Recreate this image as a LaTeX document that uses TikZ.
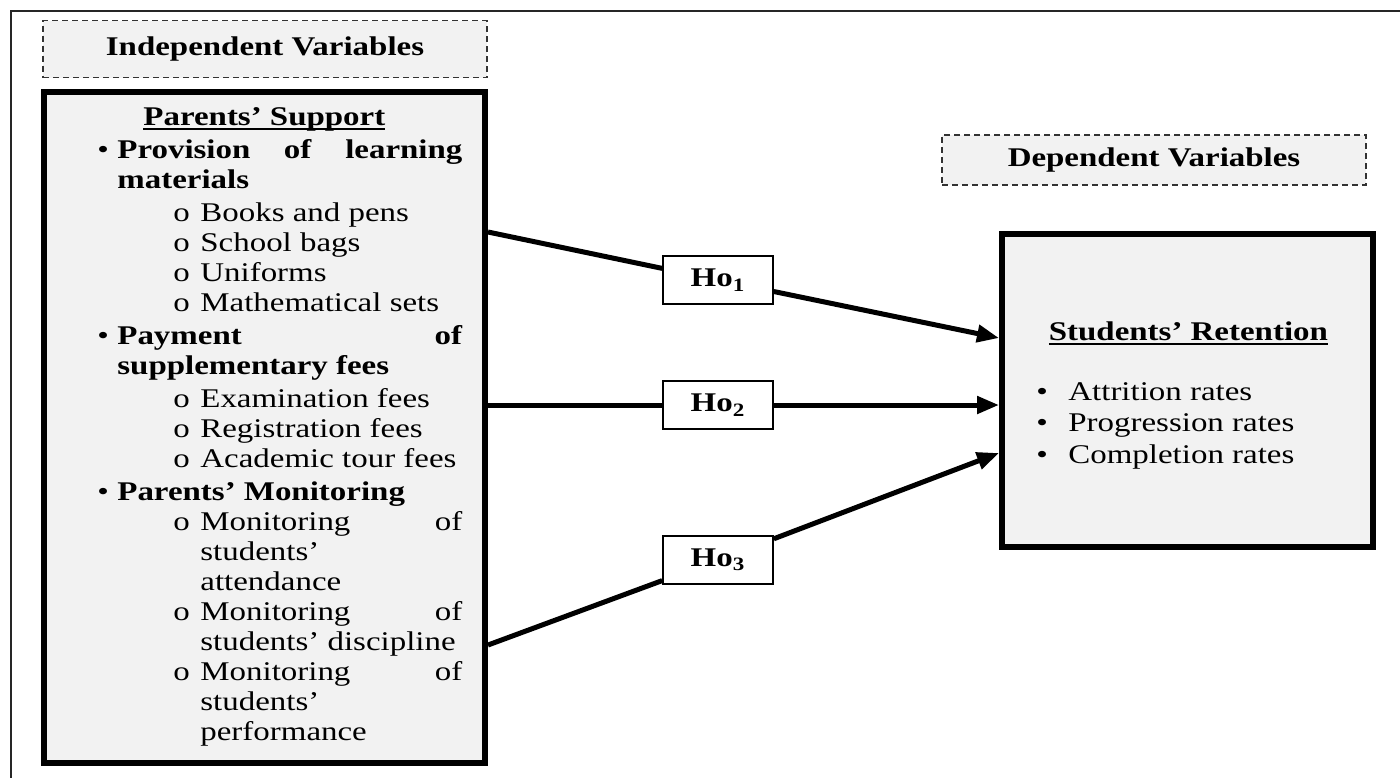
\documentclass[tikz,border=0pt]{standalone}
\usepackage{fontspec}
\setmainfont{Liberation Serif}[FakeStretch=1.22]
\usetikzlibrary{positioning,arrows.meta}
\definecolor{boxgray}{RGB}{242,242,242}
\newcommand{\diagfont}{\fontsize{13.5}{15}\selectfont}
\tikzset{
  varlabel/.style={draw=black!80, dash pattern=on 3pt off 2pt, line width=0.6pt, fill=boxgray, font=\diagfont\bfseries},
  mainbox/.style={draw, line width=3pt, fill=boxgray},
  hobox/.style={draw, line width=0.8pt, fill=white, minimum width=55pt, minimum height=24pt, inner sep=0pt, font=\diagfont\bfseries},
  link/.style={line width=2.5pt},
  arrowlink/.style={link, -{Triangle[length=11pt,width=8.5pt]}}
}
\newcommand{\ulbar}[1]{\setbox0\hbox{#1}\rlap{\rule[-2.6pt]{\wd0}{1pt}}\box0}
\newcommand{\bitem}[1]{\makebox[10pt][l]{\textbullet}\textbf{#1}}
\newcommand{\bcont}[1]{\hspace*{10pt}\textbf{#1}}
\newcommand{\oitem}[1]{\hspace*{38pt}\makebox[13.5pt][l]{o}#1}
\newcommand{\ocont}[1]{\hspace*{51.5pt}#1}
\newcommand{\ritem}[1]{\makebox[16pt][l]{\textbullet}#1}
\begin{document}
\begin{tikzpicture}[x=0.5pt, y=-0.5pt, font=\diagfont]
\useasboundingbox (0,0) rectangle (1400,778);
% frame
\draw[line width=1.2pt, black!85] (1400,11) -- (11,11) -- (11,778);
% headings
\node[varlabel, minimum width=222pt, minimum height=28.5pt] (ivlabel) at (265,49) {Independent Variables};
\node[varlabel, minimum width=212pt, minimum height=25pt] (dvlabel) at (1154,160) {Dependent Variables};
% boxes
\node[mainbox, minimum width=220.5pt, minimum height=335.5pt] (ivbox) at (264.5,427) {};
\node[mainbox, minimum width=185.5pt, minimum height=156.5pt] (dvbox) at (1187.5,390.5) {};
\node[anchor=base west, inner sep=0pt] (ivtext) at (97,125) {\parbox[t]{190pt}{%
\makebox[167pt]{\textbf{\ulbar{Parents’ Support}}}\\[1.5pt]
\makebox[10pt][l]{\textbullet}\makebox[172.5pt]{\textbf{Provision}\hfill\textbf{of}\hfill\textbf{learning}}\\
\bcont{materials}\\[1.5pt]
\oitem{Books and pens}\\
\oitem{School bags}\\
\oitem{Uniforms}\\
\oitem{Mathematical sets}\\[1.5pt]
\makebox[10pt][l]{\textbullet}\makebox[172.5pt]{\textbf{Payment}\hfill\textbf{of}}\\
\bcont{supplementary fees}\\[1.5pt]
\oitem{Examination fees}\\
\oitem{Registration fees}\\
\oitem{Academic tour fees}\\[1.5pt]
\bitem{Parents’ Monitoring}\\
\oitem{\makebox[131pt]{Monitoring\hfill of}}\\
\ocont{students’}\\
\ocont{attendance}\\
\oitem{\makebox[131pt]{Monitoring\hfill of}}\\
\ocont{students’ discipline}\\
\oitem{\makebox[131pt]{Monitoring\hfill of}}\\
\ocont{students’}\\
\ocont{performance}}};
\node[anchor=base west, inner sep=0pt] (dvtext) at (1036,340) {\parbox[t]{170pt}{%
\fontsize{13.5}{15.75}\selectfont
\makebox[152pt]{\textbf{\ulbar{Students’ Retention}}}\\[14.25pt]
\ritem{Attrition rates}\\
\ritem{Progression rates}\\
\ritem{Completion rates}}};
% hypotheses
\node[hobox] (ho1) at (718,280) {Ho\textsubscript{1}};
\node[hobox] (ho2) at (718,405) {Ho\textsubscript{2}};
\node[hobox] (ho3) at (718,560) {Ho\textsubscript{3}};
\draw[link] (ivbox.east |- 0,232) -- (ho1);
\draw[arrowlink] (ho1) -- (dvbox.west |- 0,338);
\draw[link] (ivbox.east |- 0,405) -- (ho2);
\draw[arrowlink] (ho2) -- (dvbox.west |- 0,405);
\draw[link] (ivbox.east |- 0,645) -- (ho3);
\draw[arrowlink] (ho3) -- (dvbox.west |- 0,453);
\end{tikzpicture}
\end{document}
